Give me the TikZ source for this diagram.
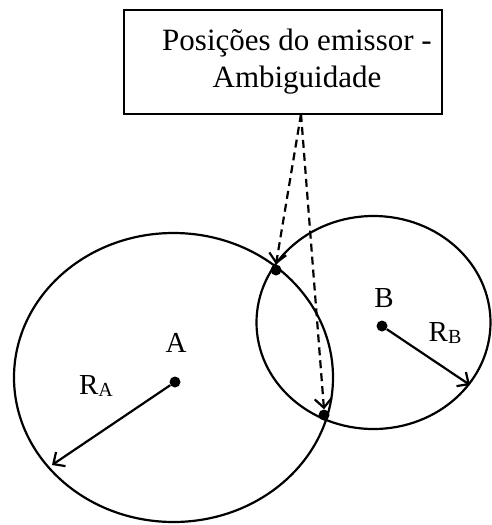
\documentclass[tikz,border=0pt]{standalone}
\usepackage{fontspec}
\setmainfont{Liberation Serif}
\usetikzlibrary{arrows.meta,shapes.geometric}
\begin{document}
\begin{tikzpicture}[x=1pt,y=-1pt,
  ln/.style={line width=2.2pt},
  tip/.style={-{Straight Barb[length=9pt,width=17pt,line width=2.2pt]}},
  dot/.style={circle,fill,inner sep=0pt,minimum size=11pt},
  lbl/.style={font=\fontsize{29}{33}\selectfont, inner sep=0pt},
  ring/.style={ellipse,draw,ln,inner sep=0pt},
  dsh/.style={ln,dash pattern=on 8pt off 5pt}]
\useasboundingbox (0,0) rectangle (491,525);
\node[draw,line width=1.3pt,minimum width=318pt,minimum height=104pt] (box) at (283,62) {};
\node[align=center,inner sep=0pt,font=\fontsize{31}{37}\selectfont] (txt) at (297,62) {Posições do emissor -\\Ambiguidade};
\node[ring,minimum width=319pt,minimum height=289pt] (ca) at (173.5,377.5) {};
\node[ring,minimum width=234pt,minimum height=213pt] (cb) at (373.5,322.5) {};
\node[dot] (a) at (175,382) {};
\node[dot] (b) at (382,326) {};
\node[dot] (p1) at (276,270) {};
\node[dot] (p2) at (324,415) {};
\coordinate (s) at (301,114);
\coordinate (ea) at (52,465);
\coordinate (eb) at (470,385);
\draw[ln,tip] (a) -- (ea);
\draw[ln,tip] (b) -- (eb);
\draw[dsh,tip] (s) -- (p1.north);
\draw[dsh,tip] (s) -- (p2.north);
\node[lbl] (la) at (176,343) {A};
\node[lbl] (lb) at (384,298) {B};
\node[lbl] (lra) at (96,386) {R\raisebox{-0.2ex}{\fontsize{20}{20}\selectfont A}};
\node[lbl] (lrb) at (445,333) {R\raisebox{-0.2ex}{\fontsize{20}{20}\selectfont B}};
\end{tikzpicture}
\end{document}
